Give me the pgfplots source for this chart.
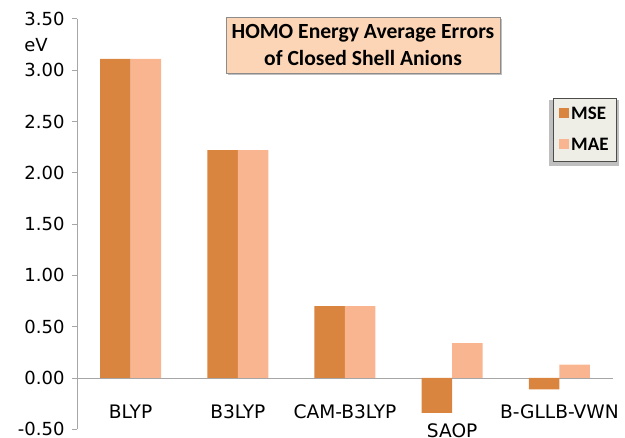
\documentclass[border=0pt]{standalone}
\usepackage{pgfplots}
\pgfplotsset{compat=1.18}
\usepackage{fontspec}
\setmainfont{DejaVu Sans}
\newfontfamily\calibri{Carlito}
\definecolor{mse}{HTML}{D9843F}
\definecolor{mae}{HTML}{F9B590}
\definecolor{titlefill}{HTML}{FBD5B5}
\definecolor{legfill}{HTML}{EEEEE6}
\definecolor{axgray}{HTML}{A6A6A6}
\begin{document}
\begin{tikzpicture}[x=1pt,y=1pt]
\begin{axis}[
  at={(0,0)}, anchor=origin,
  scale only axis, width=536pt, height=410.4pt,
  xmin=-0.5, xmax=4.5, ymin=-0.5, ymax=3.5,
  clip=false,
  axis y line*=left, axis x line*=middle,
  axis line style={axgray, line width=0.8pt},
  tick style={axgray, line width=0.8pt},
  tick align=outside,
  major tick length=5pt, minor tick length=5pt,
  xtick={0,1,2,3,4},
  xticklabels={BLYP,B3LYP,CAM-B3LYP,\raisebox{-19pt}{SAOP},B-GLLB-VWN},
  xtick style={draw=none},
  minor xtick={-0.5,0.5,1.5,2.5,3.5,4.5},
  xticklabel style={anchor=base, yshift=-36pt, font=\fontsize{18.6}{22}\selectfont},
  ytick={-0.5,0,0.5,1,1.5,2,2.5,3,3.5},
  yticklabels={-0.50,0.00,0.50,1.00,1.50,2.00,2.50,3.00,3.50},
  yticklabel style={font=\fontsize{18}{22}\selectfont, anchor=east, xshift=-4pt},
  ybar=0pt, bar width=0.2845,
  legend style={at={(1.0075,0.807)}, anchor=north east, fill=legfill, draw=black!70, line width=0.8pt,
    font=\calibri\bfseries\fontsize{19}{22}\selectfont, row sep=13pt, inner xsep=6pt, inner ysep=7pt},
  legend cell align=left,
  legend image code/.code={\fill[#1] (0pt,-4pt) rectangle (10pt,6pt);},
]
\addplot[fill=mse, draw=none, bar shift=-0.14225] coordinates {(0,3.11) (1,2.22) (2,0.70) (3,-0.34) (4,-0.11)};
\addplot[fill=mae, draw=none, bar shift=0.14225] coordinates {(0,3.11) (1,2.22) (2,0.70) (3,0.34) (4,0.13)};
\legend{MSE,MAE}
\fill[black, opacity=0.25] (rel axis cs:0.8806,0.6416) rectangle (rel axis cs:1.0112,0.8024);
\node[font=\fontsize{18}{22}\selectfont] at (rel axis cs:-0.0765,0.936) {eV};
\fill[black, opacity=0.25] (rel axis cs:0.2817,0.8633) rectangle (rel axis cs:0.7929,0.9998);
\node[fill=titlefill, draw=black!45, line width=0.8pt, align=center, minimum width=274pt, minimum height=56pt,
  font=\calibri\bfseries\fontsize{21.6}{27}\selectfont]
  at (rel axis cs:0.5336,0.936) {HOMO Energy Average Errors\\of Closed Shell Anions};
\end{axis}
\pgfresetboundingbox
\path (-130.6pt,-60pt) rectangle (494.4pt,378pt);
\end{tikzpicture}
\end{document}
